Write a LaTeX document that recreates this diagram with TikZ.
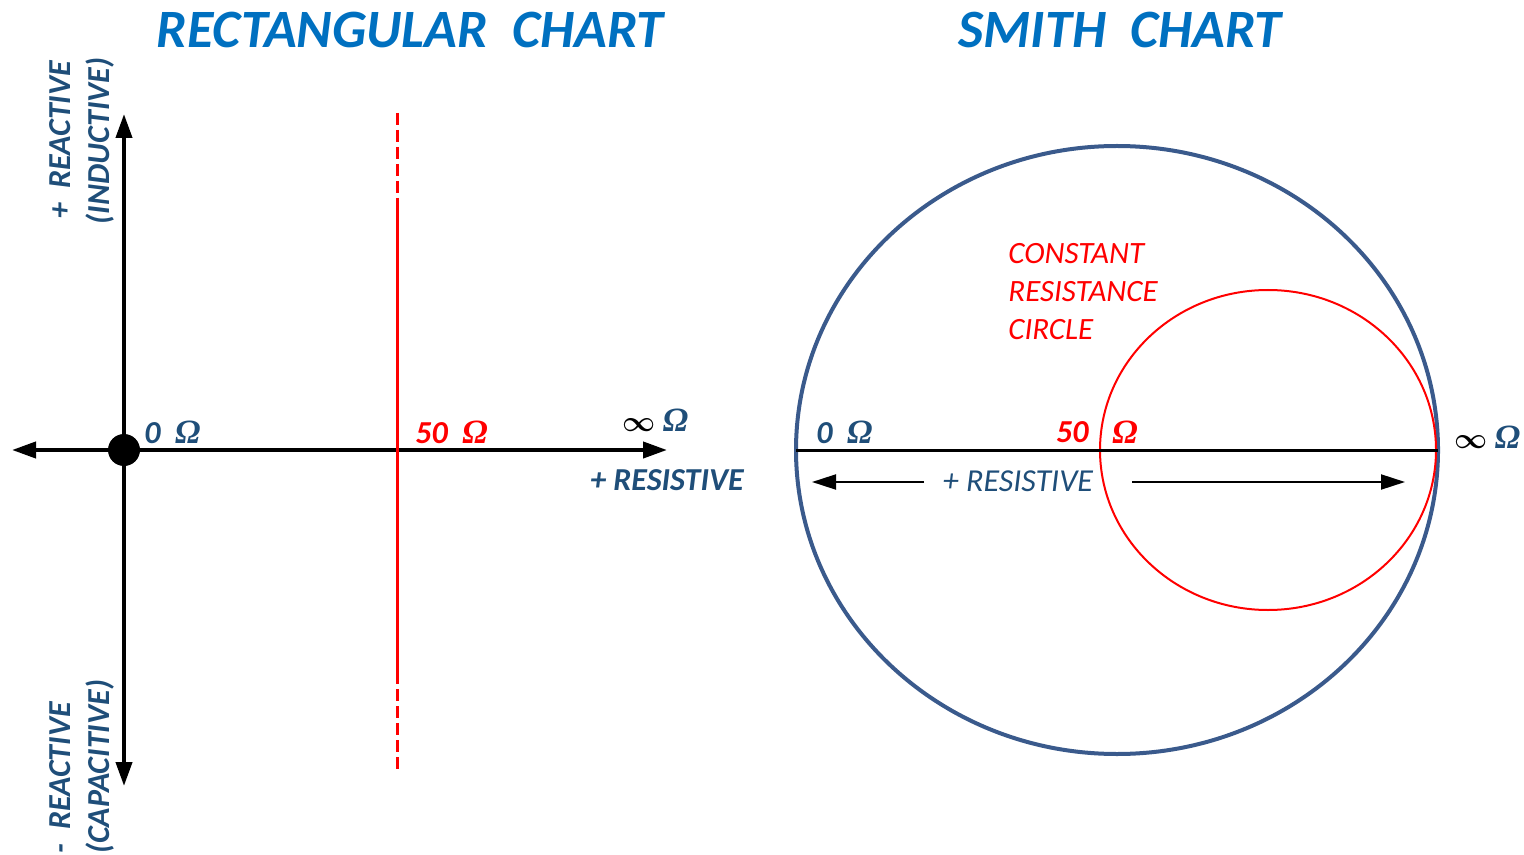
\documentclass[tikz,border=0pt]{standalone}
\usepackage{fontspec}
\setmainfont{Carlito}
\newfontfamily\greekfont{Liberation Serif}
\usetikzlibrary{positioning,arrows.meta}
\definecolor{titleblue}{RGB}{0,112,192}
\definecolor{labelblue}{RGB}{31,78,121}
\definecolor{smithblue}{RGB}{58,90,140}
\newcommand{\ohm}{{\greekfont\fontsize{17}{18}\selectfont\bfseries\itshape Ω}}
\newcommand{\infsym}{\textcolor{black}{\fontsize{15}{18}\selectfont\boldmath$\infty$}}

\begin{document}
\begin{tikzpicture}[x=0.5pt,y=-0.5pt]
		% styles
		\tikzset{
			title/.style={font=\fontsize{27}{30}\selectfont\bfseries\itshape, text=titleblue},
			lbl/.style={font=\fontsize{16}{18}\selectfont\bfseries\itshape, text=labelblue, inner sep=1pt},
			rlbl/.style={lbl, red},
			note/.style={font=\fontsize{15.5}{19}\selectfont\itshape, text=red, align=left, inner sep=0pt},
			axis/.style={line width=2pt, {Triangle[length=12pt,width=8pt]}-{Triangle[length=12pt,width=8pt]}},
			marker/.style={red, line width=1.5pt},
			thinarrow/.style={line width=1pt, -{Triangle[length=12pt,width=7.5pt]}}
		}
		\useasboundingbox (0,0) rectangle (1524,855);

		% titles
		\node[title] (ttlrect) at (410,30) {RECTANGULAR\ \ CHART};
		\node[title] (ttlsmith) at (1120,30) {SMITH\ \ CHART};

		% rectangular chart
		\coordinate (O) at (124,450);
		\coordinate (xl) at (12,450);
		\coordinate (xr) at (667,450);
		\coordinate (yt) at (124,114);
		\coordinate (yb) at (124,786);
		\draw[axis] (xl) -- (xr);
		\draw[axis] (yb) -- (yt);
		\fill (O) circle (8pt);

		\coordinate (rt) at (397,113);
		\coordinate (rs) at (397,205);
		\coordinate (re) at (397,672);
		\coordinate (rb) at (397,770);
		\draw[marker, dash pattern=on 6pt off 2.5pt] (rt) -- (rs);
		\draw[marker] (rs) -- (re);
		\draw[marker, dash pattern=on 6pt off 2.5pt] (re) -- (rb);

		\node[lbl, anchor=west] (zero) at (142,432) {0\ \ \ohm};
		\node[rlbl, anchor=west] (fifty) at (413,432) {50\ \ \ohm};
		\node[lbl, anchor=west] (inf) at (620,420) {\infsym\ \ohm};
		\node[lbl, anchor=east] (res) at (746,480) {+ RESISTIVE};
		\node[lbl, rotate=90] (plusx) at (60,140) {+\ \ REACTIVE};
		\node[lbl, rotate=90] (ind) at (100,141) {(INDUCTIVE)};
		\node[lbl, rotate=90] (minusx) at (60,778) {-\ \ REACTIVE};
		\node[lbl, rotate=90] (cap) at (100,767) {(CAPACITIVE)};

		% smith chart
		\coordinate (C) at (1117,450);
		\coordinate (R) at (1268,450);
		\coordinate (sl) at (796,450);
		\coordinate (sr) at (1438,450);
		\draw[smithblue, line width=2pt] (C) ellipse [x radius=321, y radius=304];
		\draw[red, line width=1pt] (R) ellipse [x radius=168, y radius=160];
		\draw[line width=1.5pt] (sl) -- (sr);

		\coordinate (al0) at (924,482);
		\coordinate (al1) at (812,482);
		\coordinate (ar0) at (1132,482);
		\coordinate (ar1) at (1405,482);
		\draw[thinarrow] (al0) -- (al1);
		\draw[thinarrow] (ar0) -- (ar1);

		\node[font=\fontsize{16}{18}\selectfont\itshape, text=labelblue] (sres) at (1018,481) {+ RESISTIVE};
		\node[lbl, anchor=west] (szero) at (814,432) {0\ \ \ohm};
		\node[rlbl, anchor=east] (sfifty) at (1091,432) {50};
		\node[rlbl, anchor=west] (somega) at (1110,432) {\ohm};
		\node[lbl, anchor=west] (sinf) at (1452,437) {\infsym\ \ohm};
		\node[note, anchor=north west] (crc) at (1008,243) {CONSTANT\\RESISTANCE\\CIRCLE};
\end{tikzpicture}
\end{document}
